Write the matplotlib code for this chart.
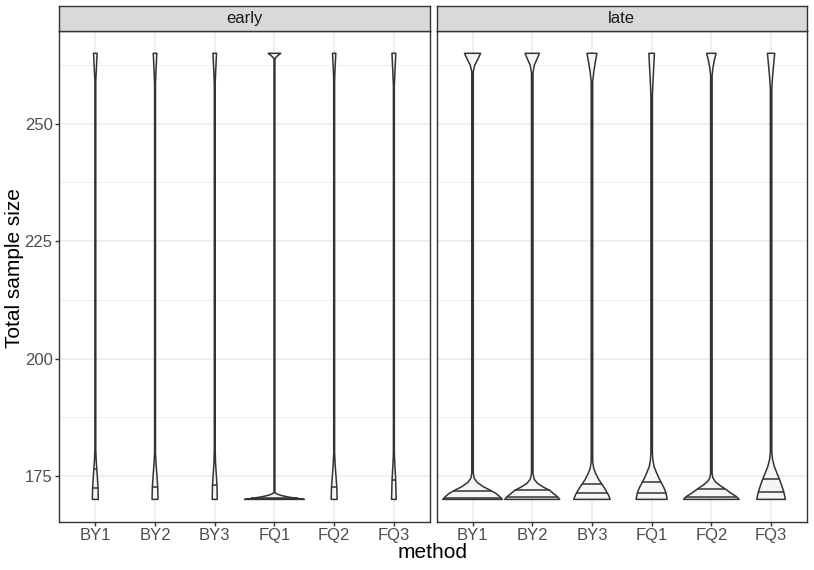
import numpy as np
import matplotlib
matplotlib.use("Agg")
import matplotlib.pyplot as plt

plt.rcParams["font.family"] = ["Liberation Sans", "DejaVu Sans"]

methods = ["BY1", "BY2", "BY3", "FQ1", "FQ2", "FQ3"]
facets = ["early", "late"]
y_ticks = [175, 200, 225, 250]

# violin outlines: sample size levels and relative density (1 = widest violin)
early_by1_y = [170, 172.4, 174.5, 176.4, 178.5, 180.6, 259.2, 261, 263, 265]
early_by1_d = [0.10, 0.092, 0.07, 0.05, 0.028, 0.015, 0.015, 0.03, 0.045, 0.06]
early_by2_y = [170, 172.6, 175.0, 177.5, 180.0, 258.5, 261, 263, 265]
early_by2_d = [0.10, 0.09, 0.065, 0.035, 0.015, 0.015, 0.03, 0.045, 0.06]
early_by3_y = [170, 173.1, 175.5, 178.0, 180.5, 258.5, 261, 263, 265]
early_by3_d = [0.085, 0.075, 0.05, 0.025, 0.015, 0.015, 0.03, 0.045, 0.06]
early_fq1_y = [170, 170.25, 170.47, 170.8, 171.1, 171.45, 263.5, 263.9, 264.5, 265]
early_fq1_d = [1.0, 0.72, 0.5, 0.25, 0.1, 0.015, 0.015, 0.02, 0.11, 0.21]
early_fq2_y = [170, 172.7, 175.0, 177.5, 180.0, 259, 261, 263, 265]
early_fq2_d = [0.10, 0.088, 0.06, 0.032, 0.015, 0.015, 0.025, 0.04, 0.055]
early_fq3_y = [170, 174.2, 176.5, 179.0, 181.0, 258, 261, 263, 265]
early_fq3_d = [0.078, 0.06, 0.04, 0.02, 0.015, 0.015, 0.035, 0.05, 0.065]

late_by1_y = [170, 170.6, 171.3, 172.0, 172.7, 173.6, 174.5, 175.6, 261.1, 262.5, 263.9, 265]
late_by1_d = [1.0, 0.91, 0.78, 0.58, 0.36, 0.16, 0.055, 0.025, 0.025, 0.077, 0.19, 0.27]
late_by2_y = [170, 170.5, 171.2, 171.9, 172.6, 173.4, 174.3, 175.5, 260.8, 262.5, 263.9, 265]
late_by2_d = [0.92, 0.86, 0.72, 0.59, 0.38, 0.18, 0.065, 0.025, 0.025, 0.07, 0.17, 0.24]
late_by3_y = [170, 171.0, 171.3, 172.2, 173.2, 174.2, 175.6, 176.6, 178.0, 259, 261, 263, 265]
late_by3_d = [0.61, 0.55, 0.52, 0.44, 0.34, 0.23, 0.12, 0.06, 0.025, 0.025, 0.06, 0.11, 0.167]
late_fq1_y = [170, 171.4, 172.5, 173.6, 174.7, 175.9, 177.0, 178.5, 180.0, 256, 259, 262, 265]
late_fq1_d = [0.52, 0.48, 0.41, 0.32, 0.23, 0.15, 0.08, 0.04, 0.025, 0.025, 0.045, 0.07, 0.093]
late_fq2_y = [170, 170.6, 171.4, 172.2, 173.0, 173.8, 174.6, 175.5, 260.3, 262, 263.5, 265]
late_fq2_d = [0.93, 0.84, 0.64, 0.47, 0.28, 0.13, 0.05, 0.025, 0.025, 0.055, 0.1, 0.157]
late_fq3_y = [170, 171.5, 172.9, 174.3, 175.7, 177.0, 178.5, 180.0, 257.5, 260, 262.5, 265]
late_fq3_d = [0.48, 0.43, 0.36, 0.28, 0.19, 0.11, 0.05, 0.025, 0.025, 0.05, 0.085, 0.123]

# quantile lines drawn inside each violin
early_quantiles = [[172.4, 176.4], [172.6], [173.1], [170.1, 170.2], [172.7], [174.2]]
late_quantiles = [[170.4, 171.7], [170.5, 171.9], [171.3, 173.2],
                  [171.4, 173.6], [170.6, 172.2], [171.5, 174.3]]

early_violins = [(early_by1_y, early_by1_d), (early_by2_y, early_by2_d),
                 (early_by3_y, early_by3_d), (early_fq1_y, early_fq1_d),
                 (early_fq2_y, early_fq2_d), (early_fq3_y, early_fq3_d)]
late_violins = [(late_by1_y, late_by1_d), (late_by2_y, late_by2_d),
                (late_by3_y, late_by3_d), (late_fq1_y, late_fq1_d),
                (late_fq2_y, late_fq2_d), (late_fq3_y, late_fq3_d)]

W, H = 814, 570
MAX_HALF = 0.5
LINE = "#333333"
FILL = "#f5f5f5"
GRID = "#ebebeb"


def draw_violins(ax, violins, quantiles):
    for i, (ys, ds) in enumerate(violins):
        pos = i + 1
        ys = np.array(ys, dtype=float)
        hw = np.array(ds) * MAX_HALF
        xs = np.concatenate([pos - hw, (pos + hw)[::-1]])
        yy = np.concatenate([ys, ys[::-1]])
        ax.fill(xs, yy, facecolor=FILL, edgecolor=LINE, lw=1.1, zorder=3,
                joinstyle="round")
        for q in quantiles[i]:
            h = np.interp(q, ys, hw)
            ax.plot([pos - h, pos + h], [q, q], color=LINE, lw=1.1, zorder=4,
                    solid_capstyle="butt")


fig = plt.figure(figsize=(W / 100, H / 100), dpi=100)

panel_left = [59.5, 436.7]
panel_w = 370.2
panel_top = 31
panel_bottom = 521.7
strip_top = 6

for k, facet in enumerate(facets):
    x0 = panel_left[k] / W
    ax = fig.add_axes([x0, 1 - panel_bottom / H, panel_w / W,
                       (panel_bottom - panel_top) / H])
    ax.set_xlim(0.4, 6.6)
    ax.set_ylim(165.25, 269.75)

    for yv in [187.5, 212.5, 237.5, 262.5]:
        ax.axhline(yv, color=GRID, lw=0.6, zorder=1)
    for yv in y_ticks:
        ax.axhline(yv, color=GRID, lw=1.1, zorder=1)
    for xv in range(1, len(methods) + 1):
        ax.axvline(xv, color=GRID, lw=1.1, zorder=1)

    if facet == "early":
        draw_violins(ax, early_violins, early_quantiles)
    else:
        draw_violins(ax, late_violins, late_quantiles)

    ax.set_xticks(range(1, len(methods) + 1))
    ax.set_xticklabels(methods)
    ax.set_yticks(y_ticks)
    if k == 0:
        ax.set_yticklabels([str(t) for t in y_ticks])
        ax.tick_params(axis="y", length=3.0, width=1.0, color=LINE, pad=2.0,
                       labelsize=12, labelcolor="#4d4d4d")
    else:
        ax.tick_params(axis="y", left=False, labelleft=False)
    ax.tick_params(axis="x", length=3.0, width=1.0, color=LINE, pad=1.8,
                   labelsize=12, labelcolor="#4d4d4d")
    for sp in ax.spines.values():
        sp.set_color(LINE)
        sp.set_linewidth(1.0)

    # facet strip
    sax = fig.add_axes([x0, 1 - panel_top / H, panel_w / W,
                        (panel_top - strip_top) / H])
    sax.set_facecolor("#d9d9d9")
    sax.set_xticks([])
    sax.set_yticks([])
    for sp in sax.spines.values():
        sp.set_color(LINE)
        sp.set_linewidth(1.0)
    sax.text(0.5, 0.5, facet, ha="center", va="center", fontsize=12,
             color="#1a1a1a", transform=sax.transAxes)

fig.text(433 / W, 1 - 552 / H, "method", ha="center", va="center",
         fontsize=15, color="black")
fig.text(15 / W, 1 - 268 / H, "Total sample size", ha="center",
         va="center", rotation=90, fontsize=15, color="black")

fig.savefig("out.png", dpi=100, facecolor="white")
